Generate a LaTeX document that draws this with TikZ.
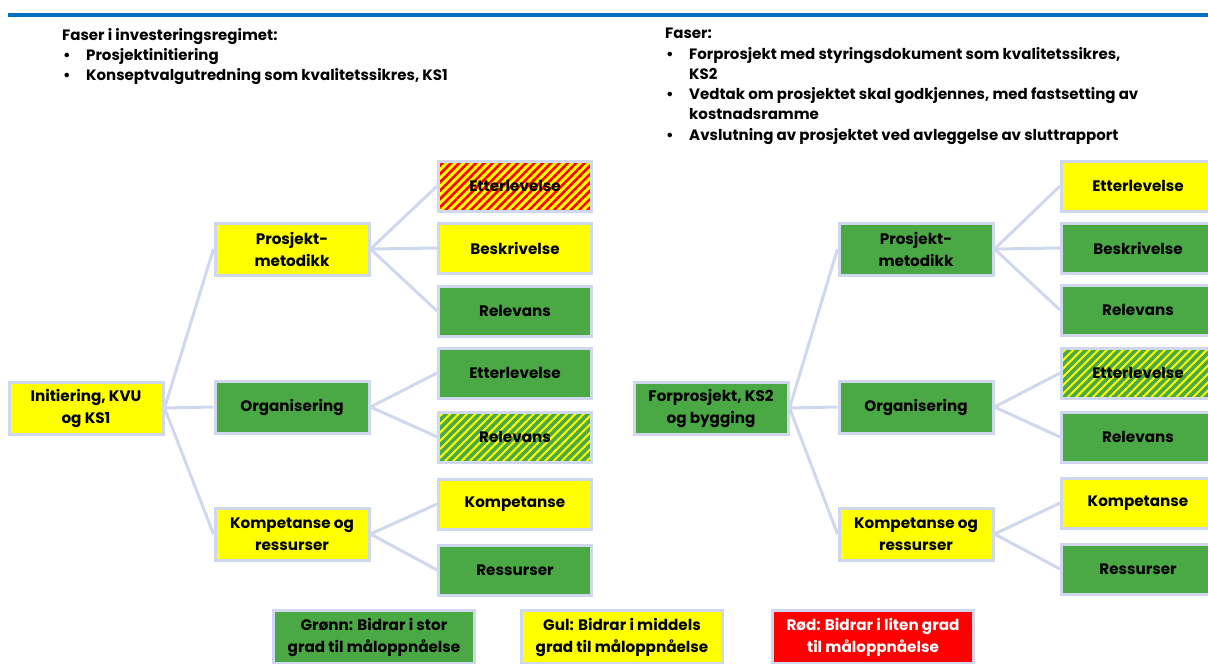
\documentclass[tikz,border=0pt]{standalone}
\usepackage{fontspec}
\setmainfont{Poppins Bold}
\usetikzlibrary{patterns.meta}
\definecolor{mygreen}{RGB}{74,168,69}
\definecolor{myyellow}{RGB}{255,255,0}
\definecolor{myred}{RGB}{255,0,0}
\definecolor{myrim}{RGB}{207,216,238}
\definecolor{mybar}{RGB}{0,112,192}

\newcommand\punkt{\makebox[24pt][l]{\hspace*{1pt}\textbullet}}

\tikzset{
  txt/.style={inner sep=0, align=left, font=\fontsize{15}{20.3}\selectfont},
  box/.style={draw=myrim, line width=3pt, minimum width=153pt, minimum height=50pt,
    align=center, inner sep=2pt, font=\fontsize{15.2}{22}\selectfont},
  midbox/.style={box, minimum width=154pt, minimum height=52pt},
  gbox/.style={box, fill=mygreen},
  ybox/.style={box, fill=myyellow},
  rybox/.style={box, preaction={fill=myyellow}, pattern color=myred,
    pattern={Lines[angle=45, distance=5.9pt, line width=2.6pt]}},
  gybox/.style={box, preaction={fill=mygreen}, pattern color=myyellow,
    pattern={Lines[angle=45, distance=5.9pt, line width=2pt]}},
  keybox/.style={box, minimum width=201pt, minimum height=53pt},
  link/.style={draw=myrim, line width=3pt},
}

\begin{document}
\begin{tikzpicture}[x=1pt,y=-1pt]
\useasboundingbox (0,0) rectangle (1208,664);
\clip (0,0) rectangle (1208,664);

\draw[mybar, line width=4pt] (8,14.7) -- (1208,14.7);

% faser
\node[txt, anchor=north west] (faserA) at (62,28) {Faser i investeringsregimet:\\
\punkt Prosjektinitiering\\
\punkt Konseptvalgutredning som kvalitetssikres, KS1};
\node[txt, anchor=north west] (faserB) at (665,28) {Faser:\\
\punkt Forprosjekt med styringsdokument som kvalitetssikres,\\
\hspace*{24pt}KS2\\
\punkt Vedtak om prosjektet skal godkjennes, med fastsetting av\\
\hspace*{24pt}kostnadsramme\\
\punkt Avslutning av prosjektet ved avleggelse av sluttrapport};

% venstre tre
\node[ybox, midbox] (initA) at (86,408) {Initiering, KVU\\og KS1};
\node[ybox, midbox] (metA) at (292,249) {Prosjekt-\\metodikk};
\node[gbox, midbox] (orgA) at (292,407) {Organisering};
\node[ybox, midbox] (kompA) at (292,534) {Kompetanse og\\ressurser};

\node[rybox] (etA) at (515,186) {Etterlevelse};
\node[ybox] (beA) at (515,248) {Beskrivelse};
\node[gbox] (reA) at (515,311) {Relevans};
\node[gbox] (et2A) at (515,373) {Etterlevelse};
\node[gybox] (re2A) at (515,437) {Relevans};
\node[ybox] (koA) at (515,504) {Kompetanse};
\node[gbox] (resA) at (515,570) {Ressurser};

% hoyre tre
\node[gbox, midbox] (initB) at (711,408) {Forprosjekt, KS2\\og bygging};
\node[gbox, midbox] (metB) at (916,249) {Prosjekt-\\metodikk};
\node[gbox, midbox] (orgB) at (916,407) {Organisering};
\node[ybox, midbox] (kompB) at (916,534) {Kompetanse og\\ressurser};

\node[ybox] (etB) at (1138,186) {Etterlevelse};
\node[gbox] (beB) at (1138,248) {Beskrivelse};
\node[gbox] (reB) at (1138,310) {Relevans};
\node[gybox] (et2B) at (1138,373) {Etterlevelse};
\node[gbox] (re2B) at (1138,437) {Relevans};
\node[ybox] (koB) at (1138,503) {Kompetanse};
\node[gbox] (resB) at (1138,569) {Ressurser};

\foreach \a/\b in {initA/metA, initA/orgA, initA/kompA, metA/etA, metA/beA, metA/reA,
  orgA/et2A, orgA/re2A, kompA/koA, kompA/resA,
  initB/metB, initB/orgB, initB/kompB, metB/etB, metB/beB, metB/reB,
  orgB/et2B, orgB/re2B, kompB/koB, kompB/resB}{
\draw[link] (\a.east) -- (\b.west);
}

% forklaring
\node[gbox, keybox] (keyG) at (374,637) {Grønn: Bidrar i stor\\grad til måloppnåelse};
\node[ybox, keybox] (keyY) at (622,637) {Gul: Bidrar i middels\\grad til måloppnåelse};
\node[box, keybox, fill=myred, text=white] (keyR) at (873,637) {Rød: Bidrar i liten grad\\til måloppnåelse};
\end{tikzpicture}
\end{document}
